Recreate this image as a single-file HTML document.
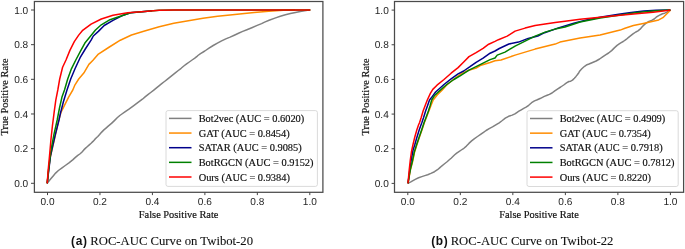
<!DOCTYPE html>
<html><head><meta charset="utf-8"><title>ROC-AUC Curves</title>
<style>
html,body{margin:0;padding:0;background:#fff;width:685px;height:249px;overflow:hidden}
svg{display:block;will-change:transform}
.tk{text-rendering:geometricPrecision;font-family:"Liberation Sans",sans-serif;font-size:10.1px;fill:#262626}
.al{font-family:"Liberation Serif",serif;font-size:10.4px;fill:#111;stroke:#111;stroke-width:0.18px}
.lg{font-family:"Liberation Serif",serif;font-size:10.38px;fill:#111;stroke:#111;stroke-width:0.18px}
.cap{font-family:"Liberation Serif",serif;font-size:12.7px;fill:#111;stroke:#111;stroke-width:0.1px}
.capb{font-family:"Liberation Sans",sans-serif;font-weight:bold;font-size:11.9px;letter-spacing:0.65px;fill:#111}
</style></head><body>
<svg width="685" height="249" viewBox="0 0 685 249">
<polyline points="47.2,183.3 48.4,181.8 50.8,178.8 53.2,175.9 55.6,173.1 58.4,170.5 61.7,168.1 65.3,165.5 69.3,162.6 72.7,159.9 75.4,157.4 77.8,155.4 79.8,154.0 81.8,152.2 83.8,149.9 85.6,148.1 87.2,146.7 89.0,145.1 91.1,143.3 93.0,141.4 94.8,139.4 96.4,137.8 97.8,136.5 99.6,134.6 101.7,132.1 103.9,129.9 106.0,128.1 108.5,125.9 111.5,123.4 114.4,120.6 117.2,117.8 119.8,115.5 121.9,114.0 124.9,111.9 128.6,109.4 133.1,106.1 138.4,102.2 142.4,99.2 145.1,96.9 147.9,94.7 150.7,92.5 153.5,90.3 156.2,88.1 159.0,85.9 161.7,83.7 164.5,81.5 167.2,79.3 170.0,77.1 172.8,74.9 175.6,72.7 178.3,70.5 181.1,68.3 183.8,66.0 186.6,63.9 189.3,62.0 192.1,60.0 194.8,58.2 196.7,56.7 197.9,55.5 200.5,53.6 204.8,51.0 209.0,48.2 213.2,45.5 217.4,43.1 221.6,40.9 225.8,38.9 230.1,37.1 234.3,35.2 238.5,33.2 242.7,31.4 246.9,29.7 251.8,27.7 257.2,25.4 261.6,23.6 264.6,22.1 269.1,20.3 274.9,18.1 280.3,16.3 285.4,14.8 290.4,13.6 295.5,12.5 300.2,11.6 304.5,10.7 307.5,10.2 309.0,10.1 309.8,10.0" fill="none" stroke="#808080" stroke-width="1.5" stroke-linejoin="round" stroke-linecap="butt"/>
<polyline points="47.2,183.4 48.5,170.0 50.5,156.0 52.2,149.0 55.5,134.6 59.0,119.2 61.2,111.9 64.1,106.1 68.5,97.3 72.8,90.0 75.0,84.8 78.7,79.0 83.8,73.1 88.9,64.4 93.0,60.3 98.4,54.1 108.6,47.5 120.3,40.2 131.5,35.0 144.6,31.0 159.2,26.8 173.8,23.3 188.4,20.8 203.0,18.3 217.6,16.3 230.0,15.0 239.6,13.9 254.2,12.5 268.8,11.2 283.4,10.3 295.0,9.9" fill="none" stroke="#ff8c00" stroke-width="1.5" stroke-linejoin="round" stroke-linecap="butt"/>
<polyline points="47.2,183.4 48.8,170.0 50.5,156.0 52.0,149.2 55.3,134.6 59.0,120.0 60.4,113.4 63.4,101.7 67.0,90.0 70.7,79.0 75.0,68.8 80.1,57.7 85.3,49.0 91.1,40.2 93.3,36.0 98.4,31.4 104.2,25.5 113.0,20.4 121.8,15.8 130.5,12.8 144.6,11.4 152.0,10.7" fill="none" stroke="#00008b" stroke-width="1.5" stroke-linejoin="round" stroke-linecap="butt"/>
<polyline points="47.2,183.4 48.6,170.0 50.2,156.0 51.7,146.3 53.9,134.6 57.2,120.0 59.3,109.0 61.9,97.3 64.5,90.0 67.7,79.0 71.4,68.8 75.8,60.0 80.9,50.4 85.3,42.4 89.6,37.3 95.5,30.0 101.3,24.8 110.0,19.7 121.8,15.8 130.5,12.8 144.6,11.4 159.2,10.2 173.8,9.9 310.4,9.9" fill="none" stroke="#008000" stroke-width="1.5" stroke-linejoin="round" stroke-linecap="butt"/>
<polyline points="47.2,183.4 48.2,170.0 49.5,156.0 51.0,139.0 52.4,126.0 54.2,111.9 55.8,100.2 57.8,90.0 59.7,79.0 62.6,67.3 66.0,60.0 69.9,50.4 74.3,41.7 78.7,35.1 82.3,30.7 91.1,24.1 101.3,19.0 113.0,15.3 127.6,12.8 144.6,11.4 159.2,10.2 173.8,9.9 310.4,9.9" fill="none" stroke="#ff0000" stroke-width="1.5" stroke-linejoin="round" stroke-linecap="butt"/>
<rect x="166" y="110.6" width="151.4" height="75.8" rx="2" ry="2" fill="#fff" fill-opacity="0.8" stroke="#d0d0d0" stroke-width="0.8"/>
<line x1="169" y1="118.40" x2="191.5" y2="118.40" stroke="#808080" stroke-width="1.5"/>
<text x="198.7" y="122.00" class="lg">Bot2vec (AUC = 0.6020)</text>
<line x1="169" y1="133.05" x2="191.5" y2="133.05" stroke="#ff8c00" stroke-width="1.5"/>
<text x="198.7" y="136.65" class="lg">GAT (AUC = 0.8454)</text>
<line x1="169" y1="147.70" x2="191.5" y2="147.70" stroke="#00008b" stroke-width="1.5"/>
<text x="198.7" y="151.30" class="lg">SATAR (AUC = 0.9085)</text>
<line x1="169" y1="162.35" x2="191.5" y2="162.35" stroke="#008000" stroke-width="1.5"/>
<text x="198.7" y="165.95" class="lg">BotRGCN (AUC = 0.9152)</text>
<line x1="169" y1="177.00" x2="191.5" y2="177.00" stroke="#ff0000" stroke-width="1.5"/>
<text x="198.7" y="180.60" class="lg">Ours (AUC = 0.9384)</text>
<rect x="34.4" y="1.5" width="288.5" height="190.8" fill="none" stroke="#4a4a4a" stroke-width="1.25"/>
<line x1="31.00" y1="183.30" x2="34.4" y2="183.30" stroke="#444" stroke-width="1"/>
<line x1="47.50" y1="192.3" x2="47.50" y2="195.10000000000002" stroke="#444" stroke-width="1"/>
<text x="28.20" y="187.00" class="tk" text-anchor="end">0.0</text>
<text x="47.50" y="205.3" class="tk" text-anchor="middle">0.0</text>
<line x1="31.00" y1="148.64" x2="34.4" y2="148.64" stroke="#444" stroke-width="1"/>
<line x1="99.96" y1="192.3" x2="99.96" y2="195.10000000000002" stroke="#444" stroke-width="1"/>
<text x="28.20" y="152.34" class="tk" text-anchor="end">0.2</text>
<text x="99.96" y="205.3" class="tk" text-anchor="middle">0.2</text>
<line x1="31.00" y1="113.98" x2="34.4" y2="113.98" stroke="#444" stroke-width="1"/>
<line x1="152.42" y1="192.3" x2="152.42" y2="195.10000000000002" stroke="#444" stroke-width="1"/>
<text x="28.20" y="117.68" class="tk" text-anchor="end">0.4</text>
<text x="152.42" y="205.3" class="tk" text-anchor="middle">0.4</text>
<line x1="31.00" y1="79.32" x2="34.4" y2="79.32" stroke="#444" stroke-width="1"/>
<line x1="204.88" y1="192.3" x2="204.88" y2="195.10000000000002" stroke="#444" stroke-width="1"/>
<text x="28.20" y="83.02" class="tk" text-anchor="end">0.6</text>
<text x="204.88" y="205.3" class="tk" text-anchor="middle">0.6</text>
<line x1="31.00" y1="44.66" x2="34.4" y2="44.66" stroke="#444" stroke-width="1"/>
<line x1="257.34" y1="192.3" x2="257.34" y2="195.10000000000002" stroke="#444" stroke-width="1"/>
<text x="28.20" y="48.36" class="tk" text-anchor="end">0.8</text>
<text x="257.34" y="205.3" class="tk" text-anchor="middle">0.8</text>
<line x1="31.00" y1="10.00" x2="34.4" y2="10.00" stroke="#444" stroke-width="1"/>
<line x1="309.80" y1="192.3" x2="309.80" y2="195.10000000000002" stroke="#444" stroke-width="1"/>
<text x="28.20" y="13.70" class="tk" text-anchor="end">1.0</text>
<text x="309.80" y="205.3" class="tk" text-anchor="middle">1.0</text>
<text x="178.65" y="217.8" class="al" text-anchor="middle">False Positive Rate</text>
<text transform="translate(8.20,96.90) rotate(-90)" class="al" text-anchor="middle">True Positive Rate</text>
<polyline points="408.0,183.4 408.9,182.9 410.8,181.9 413.0,180.6 415.7,179.1 418.6,177.7 421.8,176.6 424.8,175.6 427.7,174.7 430.9,173.4 434.5,171.7 437.5,169.7 439.9,167.6 442.0,165.8 443.6,164.5 445.5,163.0 447.4,161.5 449.3,159.8 451.1,158.2 452.9,156.5 454.7,154.8 456.7,153.1 458.9,151.6 461.3,150.0 463.9,148.3 466.4,146.1 468.9,143.4 471.6,140.9 474.5,138.6 477.5,136.5 480.6,134.4 483.5,132.4 486.1,130.5 489.2,128.6 492.5,126.9 495.8,124.9 499.2,122.8 502.3,120.5 505.3,118.1 508.6,116.3 512.2,115.1 514.9,113.9 516.8,112.6 518.9,111.2 521.3,109.8 523.7,108.4 526.1,107.2 528.7,105.3 531.6,102.7 534.5,100.9 537.3,99.8 540.6,98.3 544.3,96.4 547.2,95.2 549.4,94.4 552.0,93.0 554.8,90.8 557.8,88.8 560.7,87.0 563.7,85.0 566.5,82.8 568.9,81.5 570.7,81.2 572.5,80.1 574.4,78.2 576.0,76.4 577.5,74.5 578.8,72.7 579.8,70.9 581.8,68.8 584.6,66.3 587.0,64.7 589.0,64.0 592.0,62.7 596.1,61.0 599.6,59.0 602.6,56.8 605.6,54.8 608.6,53.0 611.6,50.6 614.6,47.6 617.1,45.4 619.2,43.9 621.2,42.6 623.2,41.5 625.1,40.2 626.9,38.8 629.5,36.6 633.0,33.9 635.8,32.0 638.0,30.9 640.1,29.2 642.2,26.7 644.3,24.6 646.5,22.9 648.9,21.5 651.7,20.4 654.2,19.0 656.2,17.2 658.3,15.8 660.5,14.7 662.5,13.8 664.7,13.2 666.9,12.1 669.2,10.7 670.4,10.0" fill="none" stroke="#808080" stroke-width="1.5" stroke-linejoin="round" stroke-linecap="butt"/>
<polyline points="408.0,183.4 410.4,170.0 412.5,162.0 414.6,152.0 416.8,145.0 419.5,137.0 422.1,129.5 424.4,122.5 426.6,117.0 428.9,111.0 431.0,105.5 433.2,100.0 437.2,95.0 442.3,90.0 446.0,85.8 453.0,79.8 460.1,74.5 468.0,70.5 476.1,68.1 480.2,65.5 490.1,62.5 495.0,60.8 501.0,60.0 515.1,55.1 535.1,49.1 555.2,44.1 560.0,42.1 580.1,38.1 600.1,35.1 620.2,30.1 625.0,28.3 633.4,25.5 643.3,23.4 653.1,21.3 658.7,19.9 662.9,17.7 666.4,14.2 669.9,10.7 670.4,10.0" fill="none" stroke="#ff8c00" stroke-width="1.5" stroke-linejoin="round" stroke-linecap="butt"/>
<polyline points="408.0,183.4 409.8,170.0 411.2,160.0 413.1,150.0 414.7,145.0 417.0,137.0 419.5,129.0 421.9,122.5 423.6,117.5 425.6,111.0 427.6,105.5 429.5,100.0 431.1,98.1 435.6,92.0 439.8,88.3 444.0,84.5 451.1,78.8 458.1,73.9 463.7,71.0 470.0,66.7 476.1,62.3 483.1,58.2 490.1,53.2 495.0,51.0 499.3,48.5 508.9,44.0 518.5,42.1 528.2,38.4 537.8,36.0 544.6,32.7 559.2,27.6 573.8,23.2 588.4,19.6 603.0,16.7 618.7,14.3 631.1,12.4 643.6,11.0 656.0,10.2 670.4,10.0" fill="none" stroke="#00008b" stroke-width="1.5" stroke-linejoin="round" stroke-linecap="butt"/>
<polyline points="408.0,183.4 410.2,170.0 412.2,162.0 414.3,152.0 416.5,145.0 419.2,137.0 421.8,129.5 424.1,122.5 426.2,117.0 428.4,111.0 430.0,106.0 431.7,100.0 434.3,95.8 439.8,90.6 446.8,84.5 453.9,79.5 460.9,75.3 469.0,70.2 476.1,66.7 483.1,63.2 490.1,59.6 495.0,58.0 497.2,55.1 505.0,52.1 515.1,46.1 525.1,41.1 535.1,36.1 545.1,32.1 555.2,29.1 565.0,27.0 580.1,22.0 600.1,18.0 620.2,15.0 637.3,12.4 656.0,10.8 670.4,10.0" fill="none" stroke="#008000" stroke-width="1.5" stroke-linejoin="round" stroke-linecap="butt"/>
<polyline points="408.0,183.4 409.2,170.0 410.3,160.0 411.4,152.0 412.9,145.0 414.8,137.0 416.8,130.0 418.5,125.0 419.6,122.5 421.2,117.5 423.1,111.0 425.2,105.5 427.3,100.0 430.5,93.1 432.8,89.4 437.0,85.2 444.0,79.5 451.1,73.2 458.1,67.6 463.7,62.0 469.0,56.6 476.1,52.6 483.1,48.4 488.7,44.2 495.0,41.4 498.4,39.7 507.2,36.1 515.1,31.1 525.1,28.1 535.1,25.6 545.1,24.0 555.2,22.4 565.0,21.2 580.1,19.2 600.1,17.2 620.2,15.2 639.0,13.6 653.1,12.2 667.1,10.5 670.4,10.0" fill="none" stroke="#ff0000" stroke-width="1.5" stroke-linejoin="round" stroke-linecap="butt"/>
<rect x="527" y="110.7" width="151.2" height="75.8" rx="2" ry="2" fill="#fff" fill-opacity="0.8" stroke="#d0d0d0" stroke-width="0.8"/>
<line x1="530" y1="118.50" x2="552.5" y2="118.50" stroke="#808080" stroke-width="1.5"/>
<text x="559.7" y="122.10" class="lg">Bot2vec (AUC = 0.4909)</text>
<line x1="530" y1="133.15" x2="552.5" y2="133.15" stroke="#ff8c00" stroke-width="1.5"/>
<text x="559.7" y="136.75" class="lg">GAT (AUC = 0.7354)</text>
<line x1="530" y1="147.80" x2="552.5" y2="147.80" stroke="#00008b" stroke-width="1.5"/>
<text x="559.7" y="151.40" class="lg">SATAR (AUC = 0.7918)</text>
<line x1="530" y1="162.45" x2="552.5" y2="162.45" stroke="#008000" stroke-width="1.5"/>
<text x="559.7" y="166.05" class="lg">BotRGCN (AUC = 0.7812)</text>
<line x1="530" y1="177.10" x2="552.5" y2="177.10" stroke="#ff0000" stroke-width="1.5"/>
<text x="559.7" y="180.70" class="lg">Ours (AUC = 0.8220)</text>
<rect x="394.5" y="1.5" width="289.1" height="190.8" fill="none" stroke="#4a4a4a" stroke-width="1.25"/>
<line x1="391.60" y1="183.40" x2="394.5" y2="183.40" stroke="#444" stroke-width="1"/>
<line x1="407.80" y1="192.3" x2="407.80" y2="195.10000000000002" stroke="#444" stroke-width="1"/>
<text x="388.80" y="187.10" class="tk" text-anchor="end">0.0</text>
<text x="407.80" y="205.3" class="tk" text-anchor="middle">0.0</text>
<line x1="391.60" y1="148.74" x2="394.5" y2="148.74" stroke="#444" stroke-width="1"/>
<line x1="460.32" y1="192.3" x2="460.32" y2="195.10000000000002" stroke="#444" stroke-width="1"/>
<text x="388.80" y="152.44" class="tk" text-anchor="end">0.2</text>
<text x="460.32" y="205.3" class="tk" text-anchor="middle">0.2</text>
<line x1="391.60" y1="114.08" x2="394.5" y2="114.08" stroke="#444" stroke-width="1"/>
<line x1="512.84" y1="192.3" x2="512.84" y2="195.10000000000002" stroke="#444" stroke-width="1"/>
<text x="388.80" y="117.78" class="tk" text-anchor="end">0.4</text>
<text x="512.84" y="205.3" class="tk" text-anchor="middle">0.4</text>
<line x1="391.60" y1="79.42" x2="394.5" y2="79.42" stroke="#444" stroke-width="1"/>
<line x1="565.36" y1="192.3" x2="565.36" y2="195.10000000000002" stroke="#444" stroke-width="1"/>
<text x="388.80" y="83.12" class="tk" text-anchor="end">0.6</text>
<text x="565.36" y="205.3" class="tk" text-anchor="middle">0.6</text>
<line x1="391.60" y1="44.76" x2="394.5" y2="44.76" stroke="#444" stroke-width="1"/>
<line x1="617.88" y1="192.3" x2="617.88" y2="195.10000000000002" stroke="#444" stroke-width="1"/>
<text x="388.80" y="48.46" class="tk" text-anchor="end">0.8</text>
<text x="617.88" y="205.3" class="tk" text-anchor="middle">0.8</text>
<line x1="391.60" y1="10.10" x2="394.5" y2="10.10" stroke="#444" stroke-width="1"/>
<line x1="670.40" y1="192.3" x2="670.40" y2="195.10000000000002" stroke="#444" stroke-width="1"/>
<text x="388.80" y="13.80" class="tk" text-anchor="end">1.0</text>
<text x="670.40" y="205.3" class="tk" text-anchor="middle">1.0</text>
<text x="539.05" y="217.8" class="al" text-anchor="middle">False Positive Rate</text>
<text transform="translate(369.30,96.90) rotate(-90)" class="al" text-anchor="middle">True Positive Rate</text>
<text x="71.1" y="245.2"><tspan class="capb">(a)</tspan><tspan class="cap" dx="2.7">ROC-AUC Curve on Twibot-20</tspan></text>
<text x="431.2" y="245.2"><tspan class="capb">(b)</tspan><tspan class="cap" dx="2.3">ROC-AUC Curve on Twibot-22</tspan></text>
</svg>
</body></html>
